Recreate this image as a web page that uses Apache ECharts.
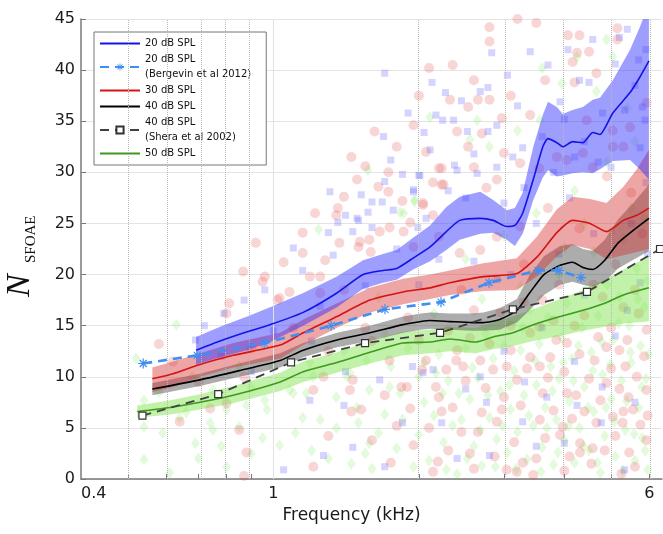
<!DOCTYPE html>
<html><head><meta charset="utf-8">
<script src="https://cdn.jsdelivr.net/npm/echarts@6/dist/echarts.min.js"></script>
<style>html,body{margin:0;padding:0;background:#fff}#c{width:663px;height:534px}</style>
</head><body><div id="c"></div>
<script>
// ---------- data (frequency in kHz, N_SFOAE) ----------
const xTickLabels = [0.4, 1, 6];
const xMinorTicks = [0.5, 0.6, 0.7, 0.8, 0.9, 1, 2, 3, 4, 5, 6];
const gridMinor = [0.5, 0.6, 0.7, 0.8, 0.9, 2, 3, 4, 5, 6];
const gridMajor = [1];

const f20 = [0.692,0.776,0.883,0.985,1.153,1.354,1.534,1.686,1.80,1.946,2.11,2.28,2.43,2.68,2.85,3.04,3.16,3.28,3.45,3.61,3.70,3.86,3.97,4.16,4.37,4.58,4.74,5.04,5.47,5.73,5.985];
const m20 = [12.6,13.5,14.4,15.1,16.3,18.2,20.0,20.4,20.6,21.6,22.7,24.2,25.3,25.5,25.3,24.7,24.8,26.0,29.3,32.5,33.3,32.9,32.5,33.0,32.9,33.9,33.7,35.8,37.8,39.3,40.9];
const lo20 = [11.2,11.9,12.6,13.4,15.0,16.8,18.6,19.2,19.5,20.5,21.3,22.4,23.4,24.0,24.1,23.4,22.8,24.0,27.3,29.5,30.2,29.6,29.7,29.9,30.0,29.9,30.3,31.1,31.2,30.3,29.3];
const hi20 = [13.9,14.9,15.9,16.8,18.2,19.8,21.4,22.0,22.4,23.6,24.8,26.6,27.6,28.1,27.3,26.3,26.5,28.0,32.5,35.6,36.9,36.4,35.7,36.1,36.4,37.1,37.3,39.0,42.0,44.2,46.5];

const f30 = [0.562,0.62,0.705,0.826,1.033,1.153,1.354,1.584,1.855,2.11,2.32,2.72,3.19,3.51,3.86,4.16,4.52,4.89,5.30,5.65,5.985];
const m30 = [9.8,10.3,11.2,12.1,13.1,14.3,15.9,17.5,18.3,18.7,19.2,19.8,20.1,21.7,24.1,25.3,25.0,24.2,25.3,25.8,26.5];
const lo30 = [8.5,9.0,10.0,10.9,11.8,13.1,14.8,16.3,17.1,17.6,18.0,18.4,18.5,19.8,21.8,22.9,22.5,21.5,21.9,22.2,22.5];
const hi30 = [10.9,11.5,12.3,13.3,14.3,15.6,17.2,18.7,19.6,20.0,20.4,21.1,21.6,23.7,26.4,27.6,27.4,27.0,28.6,30.3,32.2];

const f40 = [0.562,0.705,0.85,1.033,1.153,1.354,1.584,1.855,2.02,2.11,2.32,2.58,2.72,2.94,3.19,3.39,3.63,3.92,4.16,4.37,4.58,4.85,5.17,5.58,5.985];
const m40 = [8.8,9.7,10.6,11.6,12.6,13.6,14.3,15.1,15.4,15.5,15.4,15.3,15.3,15.6,16.5,18.2,20.0,20.9,21.2,20.7,20.5,21.4,23.1,24.4,25.5];
const lo40 = [8.2,9.1,10.0,10.9,11.9,12.9,13.5,14.3,14.6,14.7,14.6,14.5,14.5,14.6,15.3,16.5,18.0,19.0,19.3,19.0,18.8,19.3,20.6,21.5,22.3];
const hi40 = [9.4,10.3,11.3,12.3,13.3,14.3,15.0,15.9,16.2,16.3,16.2,16.2,16.3,16.7,17.6,19.9,21.8,22.8,23.0,22.5,22.3,23.4,25.4,27.1,28.8];

const f50 = [0.523,0.612,0.705,0.826,1.033,1.153,1.354,1.584,1.855,2.11,2.32,2.62,2.85,3.13,3.45,3.92,4.37,4.85,5.30,5.985];
const m50 = [6.6,7.0,7.5,8.2,9.5,10.5,11.4,12.4,13.3,13.4,13.7,13.4,13.9,14.3,15.1,15.9,16.5,17.2,18.0,18.7];
const lo50 = [6.0,6.3,6.8,7.4,8.6,9.5,10.4,11.3,12.1,12.3,12.5,12.3,12.7,13.0,13.5,14.0,14.5,14.9,15.2,15.4];
const hi50 = [7.2,7.7,8.3,9.1,10.4,11.5,12.4,13.5,14.4,14.6,14.9,14.8,15.3,15.9,16.6,17.6,18.5,19.5,20.5,21.8];

const fBerg = [0.538,0.696,0.957,1.317,1.702,2.223,2.795,3.528,3.90,4.33];
const vBerg = [11.3,12.1,13.3,15.0,16.6,17.3,19.2,20.4,20.4,19.7];

const fShera = [0.536,0.769,1.088,1.548,2.213,3.13,4.456,6.31];
const vShera = [6.2,8.3,11.4,13.3,14.3,16.6,18.3,22.5];

const redPts = [[1.36,26.5],[1.35,25.8],[1.15,24.1],[1.15,22.1],[0.866,20.3],[0.96,19.8],[0.95,19.3],[0.81,17.2],[1.03,17.7],[1.25,19.8],[1.37,23.1],[1.51,23.2],[1.59,22.2],[0.85,4.8],[1.21,1.2],[0.87,0.3],[1.45,6.6],[1.52,6.8],[0.74,6.9],[0.8,7.4],[0.87,10],[0.8,16.2],
[1.49,29.3],[1.65,28.6],[1.73,30],[1.73,28.1],[1.5,22.7],[1.58,23.4],[1.66,24.2],[1.74,24.6],[1.86,24.2],[1.95,22.7],[2.04,26.8],[2.14,25.8],[2.14,29],[2.23,28.8],[2.23,30.4],[1.19,19.8],[1.08,18.3],[1.02,17.5],[1.25,18.2],[1.4,18.5],[1.27,10],[1.46,9.7],[1.44,8.7],[1.21,8.7],[1.89,9.0],[2.03,10.7],[2.17,9.0],[2.28,10.7],
[2.8,44.2],[2.8,42.8],[3.2,45],[3.5,44.6],[4.07,43.4],[4.3,43.4],[5.15,44.1],[5.15,43],[4.25,41.7],[4.5,41.8],[4.16,40.8],[3.65,39],[4.2,38.8],[4.66,39.7],[2.32,37.1],[2.53,36.4],[2.65,37.1],[2.8,37.1],[1.95,34.6],[2.07,32],[2.2,30.4],[2.25,28.8],[2.97,35.3],[3.0,31.9],[2.53,32.5],[2.04,27],[2.6,30.5],[2.76,28.5],[2.9,29.3],[3.24,30.9],[3.86,31.5],[5.04,32.5],[5.3,32.5],[5.47,34.4],[5.04,34.1],[4.45,35.1],[4.05,31.2],[4.37,31.9],[4.58,30.5],[1.92,25.1],[2.2,23.7],[2.43,22.1],[2.68,22.4],[2.9,23.7],[3.24,24.7],[5.92,36.8],[2.35,40.5],[1.62,34],[1.45,31.5],
[1.84,9.0],[1.92,6.9],[2.23,6.6],[2.35,7.0],[2.65,4.6],[2.7,6.5],[2.87,2.2],[3.04,0.9],[3.19,0.7],[3.28,1.6],[3.45,0.4],[2.55,2.5],[2.14,0.7],[2.19,1.7],[2.97,6.8],[3.0,8.0],[3.19,9.7],[3.56,5.8],[3.61,8.4],[3.92,4.3],[3.97,5.1],[4.05,8.4],[4.23,8.2],[4.31,3.5],[4.31,2.6],[4.58,3.0],[4.66,5.5],[5.04,6.1],[5.28,5.5],[5.3,6.6],[5.43,8.0],[5.92,8.7],[5.92,3.8],[4.89,9.4],[5.2,12.6],[5.4,13.6],[5.92,14.6],[4.62,11.6],[4.89,12.9],[4.05,13.3],[3.74,11.9],[3.56,11],[3.4,11.9],[3.04,11],[2.85,10.7],[2.68,11.6],[2.47,11],[2.39,11.6],[2.07,11.6],[1.74,11.6],
[3.3,21],[3.6,17.5],[3.9,19],[4.4,16],[4.8,17.8],[5.1,21],[5.6,18.5],[5.8,24],[4.3,24.5],[3.7,26.5],[3.1,15],[2.6,16.5],[2.3,14.5],[1.9,15.8],[1.6,13.5],[1.3,12.5],[1.1,14.8],[0.9,12.8],[0.7,9.5],[0.62,11.5],[5.5,28],[4.9,29.6],[5.7,16.2],[5.0,14.8],[4.2,15],[3.4,14.3],[0.58,13.2],[0.64,5.6],[0.88,2.6],[1.6,3.8],[1.75,1.6],[2.45,4.6],[5.6,1.2],[4.0,0.8],[5.25,0.5],[1.3,4.2],
[1.55,14.8],[1.7,8.2],[1.8,5.2],[1.95,3.3],[2.0,13.6],[2.1,5.0],[2.2,8.0],[2.3,2.8],[2.4,12.6],[2.5,9.6],[2.55,13.8],[2.6,1.0],[2.75,8.9],[2.8,13.2],[2.9,5.6],[3.1,12.6],[3.15,3.6],[3.25,7.2],[3.35,10.8],[3.5,2.0],[3.55,14.9],[3.65,4.0],[3.7,9.9],[3.8,6.7],[3.85,13.6],[4.0,10.5],[4.1,2.2],[4.15,5.9],[4.3,12.2],[4.4,6.6],[4.5,9.8],[4.55,1.5],[4.7,13.9],[4.75,7.7],[4.85,2.8],[5.0,10.8],[5.1,4.2],[5.2,8.8],[5.35,11.0],[5.45,2.6],[5.55,6.8],[5.65,10.0],[5.75,5.3],[5.85,12.0],[5.95,6.2],[3.3,17.3],[3.8,15.5],[4.6,19.0],[5.3,16.8],[2.45,18.5],[2.95,16.3],
[1.28,21.4],[1.4,27.6],[1.55,30.6],[1.8,32.5],[2.0,37.5],[2.1,40.2],[2.4,34.0],[2.6,39.0],[2.7,33.8],[3.1,37.5],[3.4,35.6],[3.55,30.4],[1.85,27.2],[1.22,26.0],[1.05,21.2],[0.92,23.1]];

const bluePts = [[1.41,25.8],[1.1,22.6],[1.3,24.1],[1.33,21.9],[1.49,25.5],[1.6,27.1],[0.96,18.5],[0.87,17.5],[0.79,16.2],[0.69,13.6],[1.4,7.2],[1.46,3.1],[1.27,2.3],[1.05,0.9],[1.19,7.7],[1.41,10.5],
[1.31,28.1],[1.52,27.8],[1.57,26.1],[1.7,29.1],[1.68,27.1],[1.36,25.1],[1.5,25.3],[1.46,24.2],[1.95,28.1],[2.0,29.7],[2.37,30.7],[2.07,25.5],[1.99,24.6],[1.15,20.4],[1.66,9.7],[2.14,10.7],
[2.83,41.7],[1.7,39.7],[2.13,38.8],[2.27,37.8],[2.68,37.9],[2.78,38.3],[2.17,35.6],[2.24,35.1],[2.36,35.1],[2.11,32.2],[2.4,30.2],[2.52,34],[2.78,34],[1.69,33.5],[2.01,29.7],[2.64,29.9],[2.9,30.5],[3.28,32.4],[3.13,31.5],[3.92,36.9],[4.07,42],[4.58,43],[5.2,43.2],[5.33,36.1],[5.8,36.4],[5.87,35.1],[5.74,32.4],[1.77,26.3],[1.95,28.3],
[2.23,5.5],[2.76,7.5],[3.31,9.5],[4.25,7.2],[4.77,5.5],[4.79,9.0],[5.33,0.9],[1.7,1.2],[1.94,11],[2.04,10.4],[2.68,10],[2.8,2.3],[3.28,5.6],[3.68,8.0],[5.4,16.5],[5.74,19.2],
[3.0,27],[3.3,28.5],[3.5,25],[3.8,30],[4.1,27.5],[4.4,33],[4.7,31],[5.0,30.5],[5.6,38.5],[5.9,42],[4.3,39],[3.7,40.5],[2.5,27.5],[2.2,21.5],[1.8,22.5],[1.0,14.5],[0.78,12],[0.72,15],[3.1,20],[3.9,22],[4.6,24],[5.5,25],[5.9,29],[2.9,19.5],[1.2,13.5],[5.1,14],[4.2,11.5],[3.5,3.2],[2.5,8.8],[5.6,7.5],[0.9,10.5],[5.95,22],
[1.6,24.6],[1.75,31.2],[1.85,29.8],[1.9,35.8],[2.05,33.9],[2.3,28.2],[2.45,37.0],[2.6,31.8],[2.9,34.6],[3.05,39.5],[3.2,36.5],[3.4,41.8],[3.6,33.5],[4.0,35.2],[4.2,31.5],[4.5,38.8],[4.8,35.8],[5.1,40.6],[5.4,44.0],[5.7,41.0],[1.25,16.9],[1.55,18.9],[2.0,19.0],[2.6,21.3],[3.0,12.5],[3.6,14.8],[4.4,18.0],[1.85,5.5],[2.4,2.0],[4.0,3.5]];

const greenPts = [[1.24,24.4],[0.63,15.1],[0.52,11.8],[0.54,7.7],[0.54,1.9],[0.59,4.5],[0.61,0.6],[0.69,3.5],[0.75,4.8],[0.8,1.2],[0.8,6.8],[0.9,2.5],[0.96,7.7],[1.03,3.3],[1.11,4.5],[1.1,8.4],[1.21,10],[1.35,8.0],[1.42,10],[1.56,11.6],[1.49,7.0],[1.58,3.5],[1.0,11.0],[0.85,11],[0.68,10],[0.66,6.5],[0.75,8.7],[0.9,9.0],[0.64,6.0],[0.74,5.5],[0.85,5.1],[0.88,7.2],[0.97,6.8],[0.54,5.1],
[1.57,30.2],[1.96,27.3],[1.86,26],[1.08,8.7],[1.17,8.4],[1.44,10.4],[1.58,8.7],[1.74,9.0],[1.83,8.4],[2.0,10],[2.17,10.4],[2.24,8.4],[1.19,11.4],
[2.11,35.4],[2.64,35.1],[2.55,33.2],[2.8,32.5],[3.2,34.1],[3.56,35.1],[3.6,40.2],[3.95,38.7],[4.25,41.3],[4.89,43],[5.04,41.3],[1.96,27.1],[1.83,26.1],[5.4,36.3],[4.66,37.9],
[1.5,5.5],[1.6,1.0],[1.7,6.3],[1.8,3.0],[1.9,12.8],[2.0,4.3],[2.05,7.5],[2.1,1.8],[2.2,12.2],[2.25,3.6],[2.3,9.6],[2.4,0.5],[2.45,5.8],[2.5,12.8],[2.55,7.8],[2.6,3.2],[2.65,9.9],[2.7,1.3],[2.75,14.2],[2.8,6.0],[2.85,11.8],[2.9,3.9],[2.95,8.6],[3.0,13.0],[3.05,2.6],[3.1,6.8],[3.15,10.6],[3.2,4.6],[3.25,12.6],[3.3,8.2],[3.35,1.9],[3.4,16.6],[3.45,5.2],[3.5,9.2],[3.55,13.2],[3.6,3.1],[3.65,7.0],[3.7,15.8],[3.75,11.0],[3.8,1.4],[3.85,5.8],[3.9,9.8],[3.95,13.8],[4.0,3.8],[4.05,17.2],[4.1,7.6],[4.15,11.8],[4.2,1.6],[4.3,5.0],[4.35,14.8],[4.4,9.0],[4.45,18.6],[4.5,2.8],[4.55,12.4],[4.6,6.6],[4.7,16.0],[4.75,0.6],[4.8,10.2],[4.85,4.2],[4.9,19.0],[5.0,7.8],[5.05,13.6],[5.1,2.2],[5.2,17.8],[5.25,9.6],[5.35,4.8],[5.45,15.0],[5.5,11.4],[5.6,1.8],[5.65,20.6],[5.7,7.0],[5.75,13.0],[5.8,4.0],[5.85,16.8],[5.9,9.8],[5.95,0.9],[5.95,19.4],[1.65,17.8],[2.15,16.2],[2.7,17.6],[3.25,18.8],[3.9,20.0],[4.6,22.2],[5.3,23.5],[5.85,25.5],[3.0,23.8],[3.5,26.0],[4.2,28.2],[4.9,31.0],[5.6,33.0],[1.25,5.8],[1.3,2.0],[1.4,12.6],[1.7,14.2],
[1.55,2.5],[1.65,4.5],[1.75,11.0],[1.85,5.8],[1.95,1.2],[2.05,11.4],[2.15,6.2],[2.28,0.9],[2.35,5.2],[2.42,8.4],[2.52,2.0],[2.58,10.9],[2.68,4.8],[2.78,8.2],[2.88,1.2],[2.98,5.2],[3.08,9.2],[3.18,1.0],[3.28,14.8],[3.38,6.2],[3.48,11.6],[3.58,0.7],[3.68,5.0],[3.78,8.6],[3.88,2.6],[3.98,11.4],[4.08,5.2],[4.18,9.6],[4.28,13.0],[4.38,3.2],[4.48,7.0],[4.58,10.6],[4.68,1.6],[4.78,13.4],[4.88,7.0],[4.98,11.2],[5.08,5.6],[5.18,15.2],[5.28,0.8],[5.38,7.6],[5.48,12.4],[5.58,4.4],[5.68,17.6],[5.78,9.0],[5.88,2.8],[5.98,12.2],[3.4,20.0],[4.0,22.6],[4.4,25.0],[5.0,24.2],[5.5,26.5],[2.5,21.5],[1.2,2.8],[1.35,5.0],[1.45,1.5],[0.95,4.0],[1.15,6.0],[0.7,2.0],[0.78,3.2],[0.58,8.5]];

// ---------- helpers ----------
const L = Math.log10;
const pairs = (f, v) => f.map((x, i) => [L(x), v[i]]);
const pts = p => p.map(d => [L(d[0]), d[1]]);

const N20 = '20 dB SPL', NB = '20 dB SPL\n(Bergevin et al 2012)', N30 = '30 dB SPL',
      N40 = '40 dB SPL', NS = '40 dB SPL\n(Shera et al 2002)', N50 = '50 dB SPL';

function band(f, lo, hi, color) {
  return {
    type: 'custom', silent: true, clip: true, z: 3,
    data: [[L(f[0]), lo[0]]],
    renderItem: (params, api) => {
      const a = f.map((x, i) => api.coord([L(x), lo[i]]));
      const b = f.map((x, i) => api.coord([L(x), hi[i]])).reverse();
      return { type: 'polygon', shape: { points: a.concat(b) }, style: { fill: color } };
    }
  };
}
function meanLine(name, f, v, color) {
  return { name, type: 'line', data: pairs(f, v), symbol: 'none', smooth: 0.2, z: 5,
    lineStyle: { color, width: 1.6 }, itemStyle: { color: 'rgba(0,0,0,0)' } };
}
const asterisk = 'path://M-0.6,-5L0.6,-5L0.6,5L-0.6,5Z M-5,-0.6L5,-0.6L5,0.6L-5,0.6Z M-3.92,-3.08L-3.08,-3.92L3.92,3.08L3.08,3.92Z M3.08,-3.92L3.92,-3.08L-3.08,3.92L-3.92,3.08Z';

const FONT = 'DejaVu Sans';
const chart = echarts.init(document.getElementById('c'), null, { renderer: 'canvas' });
chart.setOption({
  animation: false,
  backgroundColor: '#fff',
  grid: { left: 81, right: 1, top: 19, bottom: 55, containLabel: false },
  xAxis: {
    type: 'value', min: L(0.4), max: L(6.37),
    name: 'Frequency (kHz)', nameLocation: 'middle', nameGap: 26,
    nameTextStyle: { fontFamily: FONT, fontSize: 17, color: '#1a1a1a', padding: [0, 40, 0, 0] },
    axisLine: { onZero: false, lineStyle: { color: '#7a7a7a', width: 1.5 } },
    axisTick: { inside: true, length: 5, lineStyle: { color: '#7a7a7a' }, customValues: xMinorTicks.map(L) },
    axisLabel: { customValues: xTickLabels.map(L), fontFamily: FONT, fontSize: 16, color: '#1a1a1a', margin: 7,
      alignMinLabel: 'left',
      formatter: v => { const f = Math.pow(10, v); return f < 0.7 ? '0.4' : String(Math.round(f)); } },
    splitLine: { show: false }
  },
  yAxis: {
    type: 'value', min: 0, max: 45, interval: 5,
    axisLine: { show: true, onZero: false, lineStyle: { color: '#7a7a7a', width: 1.5 } },
    axisTick: { show: true, inside: true, length: 5, lineStyle: { color: '#7a7a7a' } },
    axisLabel: { fontFamily: FONT, fontSize: 16, color: '#1a1a1a', margin: 6 },
    splitLine: { lineStyle: { color: '#e4e4e4', width: 1 } }
  },
  legend: {
    data: [N20, NB, N30, N40, NS, N50],
    orient: 'vertical', left: 94, top: 32,
    itemWidth: 40, itemHeight: 9, itemGap: 1,
    padding: [4, 15, 4, 5],
    backgroundColor: '#fff', borderColor: '#777', borderWidth: 1, borderRadius: 0,
    selectedMode: false,
    textStyle: { fontFamily: FONT, fontSize: 10, color: '#111', lineHeight: 15 }
  },
  graphic: [{
    type: 'group', x: 31, y: 297, rotation: Math.PI / 2,
    children: [
      { type: 'text', x: 0, y: -11, style: { text: 'N', font: 'italic 34px "Liberation Serif"', fill: '#111', align: 'left', verticalAlign: 'middle' } },
      { type: 'text', x: 34, y: 0, style: { text: 'SFOAE', font: '15px "Liberation Serif"', fill: '#111', align: 'left', verticalAlign: 'middle' } }
    ]
  }],
  series: [
    { type: 'line', data: [], silent: true, z: 1,
      markLine: { silent: true, symbol: ['none', 'none'], label: { show: false }, animation: false,
        lineStyle: { type: 'dotted', color: '#b8b8b8', width: 1 },
        data: gridMinor.map(f => ({ xAxis: L(f) })).concat(gridMajor.map(f => ({ xAxis: L(f), lineStyle: { type: 'solid', color: '#e2e2e2' } }))) } },
    { type: 'scatter', data: pts(greenPts), symbol: 'diamond', symbolSize: [9, 12], silent: true, z: 2,
      itemStyle: { color: 'rgba(125,230,85,0.26)' } },
    { type: 'scatter', data: pts(redPts), symbol: 'circle', symbolSize: 10, silent: true, z: 2,
      itemStyle: { color: 'rgba(228,70,70,0.28)' } },
    { type: 'scatter', data: pts(bluePts), symbol: 'rect', symbolSize: 7, silent: true, z: 2,
      itemStyle: { color: 'rgba(90,90,255,0.33)' } },
    band(f50, lo50, hi50, 'rgba(110,225,50,0.42)'),
    band(f40, lo40, hi40, 'rgba(70,70,70,0.45)'),
    band(f30, lo30, hi30, 'rgba(215,40,40,0.42)'),
    band(f20, lo20, hi20, 'rgba(40,40,255,0.45)'),
    meanLine(N50, f50, m50, '#3d9a1c'),
    meanLine(N40, f40, m40, '#000000'),
    meanLine(N30, f30, m30, '#d41414'),
    meanLine(N20, f20, m20, '#1414e6'),
    { name: NB, type: 'line', data: pairs(fBerg, vBerg), symbol: asterisk, symbolSize: 10, z: 6,
      lineStyle: { color: '#3f8ff2', width: 2.6, type: [9, 6] }, itemStyle: { color: '#3f8ff2' } },
    { name: NS, type: 'line', data: pairs(fShera, vShera), symbol: 'rect', symbolSize: 7, z: 6,
      lineStyle: { color: '#404040', width: 1.8, type: [9, 6] },
      itemStyle: { color: '#ffffff', borderColor: '#333333', borderWidth: 1.2 } }
  ]
});
</script></body></html>
